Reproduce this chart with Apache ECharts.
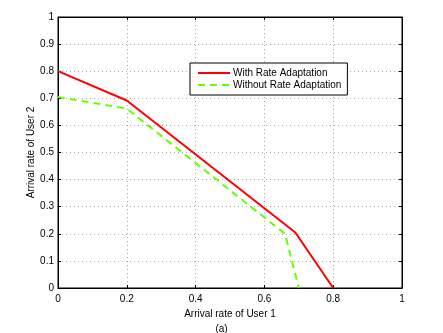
<!DOCTYPE html>
<html>
<head>
<meta charset="utf-8">
<script src="https://cdn.jsdelivr.net/npm/echarts@6/dist/echarts.min.js"></script>
<style>
html,body{margin:0;padding:0;background:#fff;}
#c{width:443px;height:333px;}
</style>
</head>
<body>
<div id="c"></div>
<script>
const seriesNames = ['With Rate Adaptation', 'Without Rate Adaptation'];
const withX = [0, 0.2, 0.69, 0.8];
const withY = [0.8, 0.692, 0.205, 0];
const withoutX = [0, 0.2, 0.66, 0.7];
const withoutY = [0.705, 0.662, 0.2, 0];
const xAxisTitle = 'Arrival rate of User 1';
const yAxisTitle = 'Arrival rate of User 2';
const caption = '(a)';

const FONT = 'Liberation Sans, Arial, Helvetica, sans-serif';
const zip = (xs, ys) => xs.map((x, i) => [x, ys[i]]);

const chart = echarts.init(document.getElementById('c'), null, {renderer: 'canvas'});
const baseAxis = {
  min: 0, max: 1,
  axisLine: {show: true, onZero: false, lineStyle: {color: '#000', width: 1}},
  axisTick: {show: true, inside: true, length: 3, lineStyle: {color: '#000'}},
};
chart.setOption({
  backgroundColor: '#fff',
  animation: false,
  textStyle: {fontFamily: FONT},
  title: {
    text: caption, left: 'center', top: 319,
    textStyle: {fontSize: 10, fontWeight: 'normal', color: '#000', fontFamily: FONT}
  },
  grid: {left: 58, right: 41, top: 17, bottom: 45, show: true, borderColor: '#000', borderWidth: 1, containLabel: false},
  legend: {
    orient: 'vertical', left: 190, top: 63,
    padding: [5, 6, 5, 7],
    itemWidth: 32, itemHeight: 10, itemGap: 2,
    itemStyle: {color: 'rgba(0,0,0,0)', borderWidth: 0, opacity: 0},
    borderColor: '#000', borderWidth: 1, backgroundColor: '#fff',
    textStyle: {fontSize: 10, color: '#000', fontFamily: FONT, padding: [0,0,0,-2]},
    data: seriesNames
  },
  xAxis: [
    Object.assign({}, baseAxis, {
      type: 'value', position: 'bottom', interval: 0.2,
      name: xAxisTitle, nameLocation: 'middle', nameGap: 21, nameMoveOverlap: false,
      nameTextStyle: {fontSize: 10, color: '#000', fontFamily: FONT},
      axisLabel: {fontSize: 10, color: '#000', margin: 6, fontFamily: FONT},
      splitLine: {show: true, lineStyle: {color: '#a8a8a8', type: [1, 3], width: 1}}
    }),
    Object.assign({}, baseAxis, {
      type: 'value', position: 'top', interval: 0.2,
      axisLabel: {show: false}, splitLine: {show: false}
    })
  ],
  yAxis: [
    Object.assign({}, baseAxis, {
      type: 'value', position: 'left', interval: 0.1,
      name: yAxisTitle, nameLocation: 'middle', nameGap: 22, nameMoveOverlap: false,
      nameTextStyle: {fontSize: 10, color: '#000', fontFamily: FONT},
      axisLabel: {fontSize: 10, color: '#000', margin: 4, fontFamily: FONT},
      splitLine: {show: true, lineStyle: {color: '#a8a8a8', type: [1, 3], width: 1}}
    }),
    Object.assign({}, baseAxis, {
      type: 'value', position: 'right', interval: 0.1,
      axisLabel: {show: false}, splitLine: {show: false}
    })
  ],
  series: [
    {
      name: seriesNames[0], type: 'line', xAxisIndex: 0, yAxisIndex: 0,
      data: zip(withX, withY), symbol: 'none', z: 3,
      color: '#ff0000',
      lineStyle: {color: '#ff0000', width: 2}
    },
    {
      name: seriesNames[1], type: 'line', xAxisIndex: 0, yAxisIndex: 0,
      data: zip(withoutX, withoutY), symbol: 'none', z: 2,
      color: '#66ff00',
      lineStyle: {color: '#66ff00', width: 2, type: [7, 5]}
    }
  ]
});
</script>
</body>
</html>
